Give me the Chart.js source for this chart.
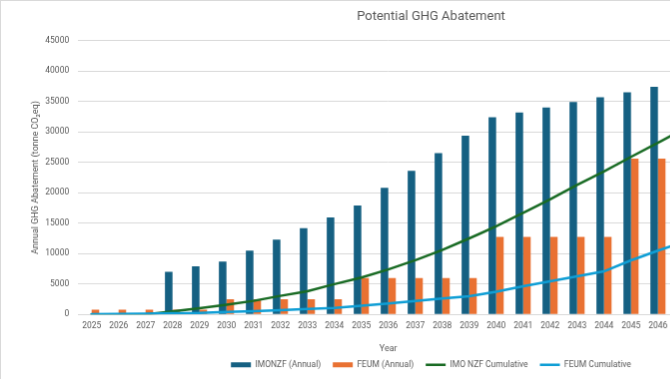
<!DOCTYPE html>
<html><head><meta charset="utf-8">
<script src="https://cdn.jsdelivr.net/npm/chart.js@4"></script>
<style>
html,body{margin:0;padding:0;overflow:hidden;background:#fff;width:670px;height:380px}
#wrap{position:absolute;left:0;top:0}
canvas{display:block;border-left:1px solid #d9d9d9;border-top:1px solid #d9d9d9}
</style></head><body>
<div id="wrap"><canvas id="c" width="861" height="379"></canvas></div>
<script>
// Data (2047 only partly visible at the right edge)
const years = ['2025','2026','2027','2028','2029','2030','2031','2032','2033','2034','2035','2036','2037','2038','2039','2040','2041','2042','2043','2044','2045','2046','2047'];
const imoAnnual  = [0,0,0,7000,7900,8700,10500,12300,14200,15950,17900,20800,23600,26500,29400,32400,33200,34000,34900,35700,36500,37400,null];
const feumAnnual = [800,800,800,800,800,2500,2500,2500,2500,2500,6000,6000,6000,6000,6000,12750,12750,12750,12750,12750,25600,25600,null];
const imoCumulative  = [0,0,0,500,1050,1600,2240,3060,3830,4980,6080,7400,8930,10600,12500,14500,16700,18900,21300,23500,25900,28200,30600];
const feumCumulative = [50,100,150,200,260,420,560,720,890,1070,1460,1820,2230,2620,3000,3750,4640,5470,6290,7080,8900,10500,12000];
const yTicks = { min: 0, max: 45000, step: 5000 };

const TXT = '#595959';
Chart.defaults.font.family = 'Roboto';
Chart.defaults.color = TXT;

new Chart(document.getElementById('c'), {
  data: {
    labels: years,
    datasets: [
      { type: 'bar', label: 'IMONZF (Annual)', data: imoAnnual, backgroundColor: '#156082', borderWidth: 0, order: 2, categoryPercentage: 0.56, barPercentage: 1.0 },
      { type: 'bar', label: 'FEUM (Annual)', data: feumAnnual, backgroundColor: '#E97132', borderWidth: 0, order: 2, categoryPercentage: 0.56, barPercentage: 1.0 },
      { type: 'line', label: 'IMO NZF Cumulative', data: imoCumulative, borderColor: '#196B24', backgroundColor: '#196B24', borderWidth: 2.5, pointRadius: 0, tension: 0, fill: false, order: 1, borderCapStyle: 'round' },
      { type: 'line', label: 'FEUM Cumulative', data: feumCumulative, borderColor: '#0F9ED5', backgroundColor: '#0F9ED5', borderWidth: 2.5, pointRadius: 0, tension: 0, fill: false, order: 0, borderCapStyle: 'round' }
    ]
  },
  options: {
    responsive: false,
    animation: false,
    devicePixelRatio: 1,
    layout: { padding: 0 },
    plugins: {
      tooltip: { enabled: false },
      title: {
        display: true, text: 'Potential GHG Abatement', color: TXT,
        font: { size: 13, weight: 'normal' },
        padding: { top: 8.2, bottom: 15.9 }
      },
      legend: {
        position: 'bottom',
        labels: {
          usePointStyle: true, pointStyleWidth: 20, boxHeight: 5, padding: 12,
          color: TXT, font: { size: 8.5 },
          generateLabels: (chart) => {
            const items = Chart.defaults.plugins.legend.labels.generateLabels(chart);
            items.forEach(it => {
              const ds = chart.data.datasets[it.datasetIndex];
              if (ds.type === 'line') { it.pointStyle = 'line'; it.lineWidth = 2.5; it.strokeStyle = ds.borderColor; it.fillStyle = ds.borderColor; }
              else { it.pointStyle = 'rect'; it.lineWidth = 0; it.fillStyle = ds.backgroundColor; }
            });
            return items;
          },
          sort: (a, b) => a.datasetIndex - b.datasetIndex
        }
      }
    },
    scales: {
      x: {
        type: 'category',
        grid: { display: false, drawTicks: false },
        border: { display: false },
        ticks: { autoSkip: false, maxRotation: 0, minRotation: 0, padding: 6.3, font: { size: 8.5 }, color: TXT },
        title: { display: true, text: 'Year', color: TXT, font: { size: 9 }, padding: { top: 6.4, bottom: -5.8 } }
      },
      y: {
        position: 'left',
        min: yTicks.min, max: yTicks.max,
        grid: { color: '#d9d9d9', lineWidth: 1, drawTicks: false },
        border: { display: false },
        ticks: { stepSize: yTicks.step, padding: 9, font: { size: 8.5 }, color: TXT, callback: v => String(v) },
        title: { display: true, text: 'Annual GHG Abatement (tonne CO₂eq)', color: TXT, font: { size: 9 }, padding: { top: 29.6, bottom: 29.6 } },
        afterFit: s => { s.width = 77.2; }
      },
      yR: {
        type: 'linear', position: 'right', display: true,
        grid: { display: false, drawTicks: false },
        border: { display: false },
        ticks: { display: false },
        afterFit: s => { s.width = 162.8; }
      }
    }
  }
});
</script>
</body></html>
